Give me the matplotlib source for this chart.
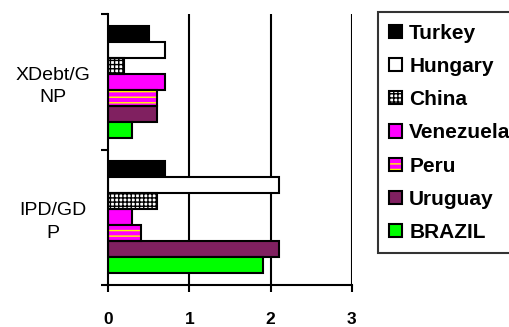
import matplotlib.pyplot as plt
import numpy as np

plt.rcParams['font.family'] = ['Liberation Sans', 'DejaVu Sans']

categories = ['IPD/GD\nP', 'XDebt/G\nNP']
countries = ['Turkey', 'Hungary', 'China', 'Venezuela', 'Peru', 'Uruguay', 'BRAZIL']
# values per country: [IPD/GDP, XDebt/GNP]
turkey = [0.7, 0.5]
hungary = [2.1, 0.7]
china = [0.6, 0.2]
venezuela = [0.3, 0.7]
peru = [0.4, 0.6]
uruguay = [2.1, 0.6]
brazil = [1.9, 0.3]
series = [turkey, hungary, china, venezuela, peru, uruguay, brazil]

faces = ['black', 'white', 'white', '#FF00FF', '#FF00FF', '#802060', '#00FF00']
hatches = [None, None, '++++', None, '---', None, None]
hatch_cols = ['black', 'black', 'black', 'black', '#FFFF00', 'black', 'black']

fig = plt.figure(figsize=(5.1, 3.27), dpi=100)
ax = fig.add_axes([0.212, 0.128, 0.478, 0.829])

y = np.arange(len(categories))
h = 0.118
handles = []
for i, (name, vals) in enumerate(zip(countries, series)):
    off = (3 - i) * h
    if hatches[i]:
        b1 = ax.barh(y + off, vals, height=h, color=faces[i], hatch=hatches[i],
                     edgecolor=hatch_cols[i], linewidth=0, zorder=3)
        b2 = ax.barh(y + off, vals, height=h, facecolor='none',
                     edgecolor='black', linewidth=1.5, zorder=4)
        handles.append((b1[0], b2[0]))
    else:
        b = ax.barh(y + off, vals, height=h, color=faces[i],
                    edgecolor='black', linewidth=1.5, zorder=3)
        handles.append(b[0])

ax.set_xlim(0, 3)
ax.set_ylim(-0.5, 1.5)
ax.set_xticks([0, 1, 2, 3])
ax.set_xticklabels(['0', '1', '2', '3'], fontweight='bold', fontsize=12.5)
ax.tick_params(axis='x', length=5, width=1.5, pad=14)
ax.set_yticks(y)
ax.set_yticklabels(categories, fontsize=14, ha='center', linespacing=1.4)
ax.tick_params(axis='y', length=0, pad=40)
ax.set_yticks([-0.5, 0.5, 1.5], minor=True)
ax.tick_params(axis='y', which='minor', length=5, width=1.5)
for x in [1, 2, 3]:
    ax.axvline(x, color='black', linewidth=1.5, zorder=1)
ax.spines['top'].set_visible(False)
ax.spines['right'].set_visible(False)
ax.spines['left'].set_linewidth(1.5)
ax.spines['bottom'].set_linewidth(1.5)
ax.spines['left'].set_zorder(5)

leg = fig.legend(handles, countries, loc='upper left', bbox_to_anchor=(0.741, 0.962),
                 frameon=True, fancybox=False, edgecolor='black',
                 prop={'weight': 'bold', 'size': 15}, handlelength=0.6,
                 handleheight=0.6, handletextpad=0.35, labelspacing=0.68,
                 borderpad=0.55, borderaxespad=0)
leg.get_frame().set_linewidth(1.5)

plt.savefig('out.png')
